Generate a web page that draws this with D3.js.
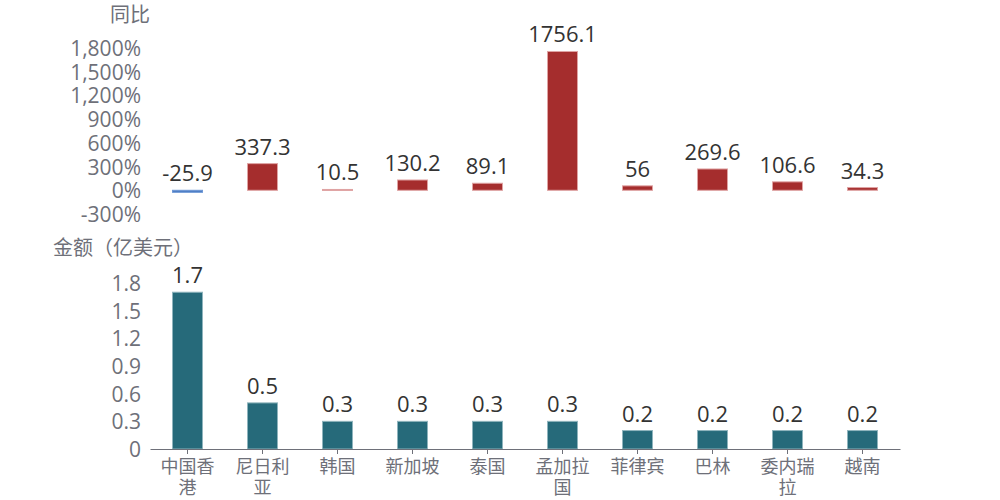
<!DOCTYPE html>
<html><head><meta charset="utf-8">
<script src="https://cdn.jsdelivr.net/npm/d3@7"></script>
<style>
body{margin:0;background:#fff;}
text{font-family:"Open Sans","Noto Sans CJK SC",sans-serif;}
</style></head>
<body><svg id="c" width="1000" height="500"></svg>
<script>
const categories = ["中国香港","尼日利亚","韩国","新加坡","泰国","孟加拉国","菲律宾","巴林","委内瑞拉","越南"];
const yoy = [-25.9,337.3,10.5,130.2,89.1,1756.1,56,269.6,106.6,34.3];
const amount = [1.7,0.5,0.3,0.3,0.3,0.3,0.2,0.2,0.2,0.2];
const yoyTicks = [-300,0,300,600,900,1200,1500,1800];
const amountTicks = [0,0.3,0.6,0.9,1.2,1.5,1.8];

const svg = d3.select("#c");
const x = d3.scaleBand().domain(categories).range([150,900]).paddingInner(0.6).paddingOuter(0.3);
const yTop = d3.scaleLinear().domain([-300,1800]).range([214,48]);
const yBot = d3.scaleLinear().domain([0,1.8]).range([449,283]);

const gray = "#6e7079";
const red = "#a52d2d", redS = "#dfa3a3";
const blue = "#4a7bc3", blueS = "#6f98d6";
const teal = "#266a7a", tealS = "#8fb4bd";

// top axis
const ta = svg.append("g").attr("transform","translate(150,0)")
  .call(d3.axisLeft(yTop).tickValues(yoyTicks).tickSize(0).tickPadding(9)
    .tickFormat(d=>(d<0?"-":"")+d3.format(",")(Math.abs(d))+"%"));
ta.select(".domain").remove();
ta.selectAll("text").attr("fill",gray).style("font-size","21px").attr("dy","0.36em");

svg.append("text").attr("x",130).attr("y",22).attr("text-anchor","middle")
  .attr("fill",gray).style("font-size","20px").style("font-family","'Noto Sans CJK SC'").text("同比");

svg.append("g").selectAll("rect").data(yoy).join("rect")
  .attr("x",(d,i)=>x(categories[i]))
  .attr("width",x.bandwidth())
  .attr("y",d=>Math.min(yTop(d),yTop(0)))
  .attr("height",d=>Math.max(1,Math.abs(yTop(d)-yTop(0))))
  .attr("fill",d=>d<0?blue:(d<20?"#e3a9a9":red))
  .attr("stroke",d=>d<0?blueS:(d<20?"#dfa3a3":redS))
  .attr("stroke-width",1);

svg.append("g").selectAll("text").data(yoy).join("text")
  .attr("x",(d,i)=>x(categories[i])+x.bandwidth()/2)
  .attr("y",d=>Math.min(yTop(d),yTop(0))-9)
  .attr("text-anchor","middle").attr("fill","#333").style("font-size","22px")
  .text(d=>d);

// bottom axis
const ba = svg.append("g").attr("transform","translate(150,0)")
  .call(d3.axisLeft(yBot).tickValues(amountTicks).tickSize(0).tickPadding(9).tickFormat(d=>d3.format("")(d)));
ba.select(".domain").remove();
ba.selectAll("text").attr("fill",gray).style("font-size","21px").attr("dy","0.36em");

svg.append("text").attr("x",123).attr("y",255).attr("text-anchor","middle")
  .attr("fill",gray).style("font-size","20px").style("font-family","'Noto Sans CJK SC'").text("金额（亿美元）");

svg.append("g").selectAll("rect").data(amount).join("rect")
  .attr("x",(d,i)=>x(categories[i]))
  .attr("width",x.bandwidth())
  .attr("y",d=>yBot(d))
  .attr("height",d=>yBot(0)-yBot(d))
  .attr("fill",teal).attr("stroke",tealS).attr("stroke-width",1);

svg.append("g").selectAll("text").data(amount).join("text")
  .attr("x",(d,i)=>x(categories[i])+x.bandwidth()/2)
  .attr("y",d=>yBot(d)-9)
  .attr("text-anchor","middle").attr("fill","#333").style("font-size","22px")
  .text(d=>d);

const xa = svg.append("g").attr("transform",`translate(0,${yBot(0)})`)
  .call(d3.axisBottom(x).tickSize(5).tickSizeOuter(0).tickFormat(""));
xa.select(".domain").attr("stroke",gray);
xa.selectAll("line").attr("stroke",gray);
xa.selectAll(".tick").each(function(d){
  const t = d3.select(this).append("text").attr("fill",gray).attr("text-anchor","middle")
    .style("font-size","18px").style("font-family","'Noto Sans CJK SC'");
  const lines = [];
  for(let i=0;i<d.length;i+=3) lines.push(d.slice(i,i+3));
  lines.forEach((l,j)=>t.append("tspan").attr("x",0).attr("y",24+j*21).text(l));
});
</script></body></html>
